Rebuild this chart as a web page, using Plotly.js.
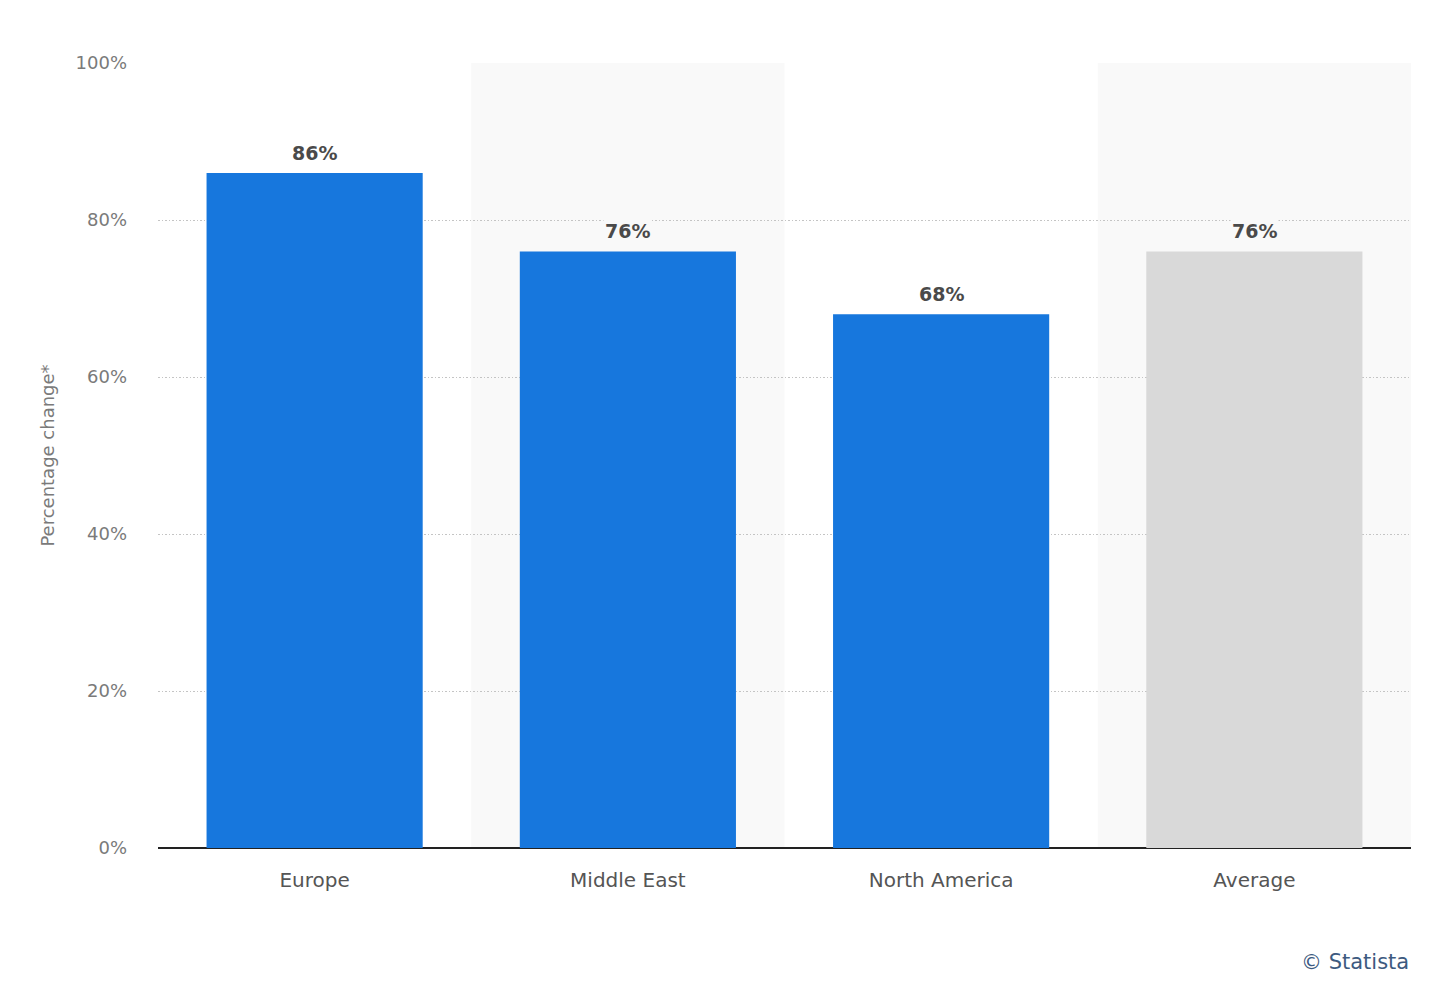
<!DOCTYPE html>
<html>
<head>
<meta charset="utf-8">
<script src="https://cdn.plot.ly/plotly-3.0.1.min.js"></script>
<style>html,body{margin:0;padding:0;background:#fff;}#chart{width:1440px;height:992px;}</style>
</head>
<body>
<div id="chart"></div>
<script>
const categories = ["Europe", "Middle East", "North America", "Average"];
const values = [86, 76, 68, 76];
const barColors = ["#1777dd", "#1777dd", "#1777dd", "#d9d9d9"];
const shadedBands = ["Middle East", "Average"];
const yTicks = [0, 20, 40, 60, 80, 100];
const yTickLabels = ["0%", "20%", "40%", "60%", "80%", "100%"];

const font = "'DejaVu Sans', 'Open Sans', sans-serif";
const bandColor = "#f9f9f9";

const shapes = shadedBands.map(c => {
  const i = categories.indexOf(c);
  return {type: "rect", xref: "x", yref: "paper", x0: i - 0.5, x1: i + 0.5, y0: 0, y1: 1,
          fillcolor: bandColor, line: {width: 0}, layer: "below"};
});

const annotations = categories.map((c, i) => ({
  x: c, y: values[i], xref: "x", yref: "y", text: values[i] + "%",
  showarrow: false, yanchor: "bottom", yshift: 7,
  font: {family: font, size: 19, color: "#4a4a4a", weight: "bold"},
  bgcolor: shadedBands.includes(c) ? bandColor : "#ffffff", borderpad: 1
}));
annotations.push({
  xref: "paper", yref: "paper", x: 1, y: -0.145, xanchor: "right", yanchor: "middle",
  text: "© Statista", showarrow: false,
  font: {family: font, size: 21, color: "#3d5a80"}
});

const trace = {
  type: "bar", x: categories, y: values,
  marker: {color: barColors, line: {width: 0}},
  hoverinfo: "none"
};

const layout = {
  width: 1440, height: 992,
  margin: {l: 158, r: 29, t: 63, b: 144},
  paper_bgcolor: "#ffffff", plot_bgcolor: "rgba(0,0,0,0)",
  bargap: 0.31,
  showlegend: false,
  font: {family: font},
  xaxis: {
    type: "category",
    tickfont: {family: font, size: 20, color: "#555555"},
    showgrid: false, zeroline: false,
    showline: false, ticks: "", ticklabelstandoff: 18
  },
  yaxis: {
    range: [0, 100], tickvals: yTicks, ticktext: yTickLabels,
    tickfont: {family: font, size: 18, color: "#7a7a7a"},
    showgrid: true, gridcolor: "#c4c4c4", griddash: "1.5px,2px", gridwidth: 1,
    zeroline: true, zerolinecolor: "#222222", zerolinewidth: 2,
    ticks: "", ticklabelstandoff: 30,
    title: {text: "Percentage change*", font: {family: font, size: 18, color: "#7a7a7a"}, standoff: 16}
  },
  shapes: shapes,
  annotations: annotations
};

Plotly.newPlot("chart", [trace], layout, {displayModeBar: false, staticPlot: true});
</script>
</body>
</html>
